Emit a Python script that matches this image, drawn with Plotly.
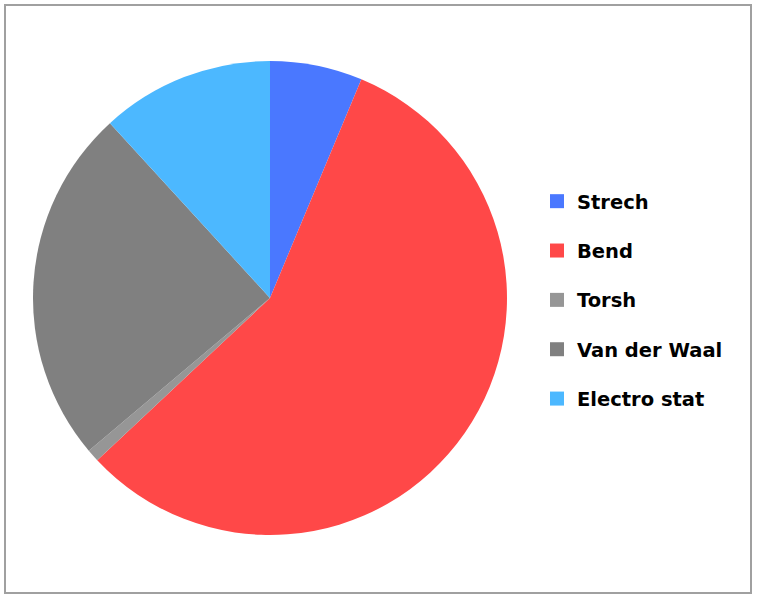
import plotly.graph_objects as go

labels = ["Strech", "Bend", "Torsh", "Van der Waal", "Electro stat"]
values = [6.3, 56.7, 0.85, 24.35, 11.8]
colors = ["#4A78FF", "#FF4848", "#969696", "#808080", "#4CB8FF"]

W, H = 757, 600

fig = go.Figure()

fig.add_trace(go.Pie(
    labels=labels,
    values=values,
    marker=dict(colors=colors, line=dict(width=0)),
    sort=False,
    direction="clockwise",
    rotation=0,
    textinfo="none",
    showlegend=False,
    domain=dict(x=[33 / W, 507 / W], y=[1 - 535 / H, 1 - 61 / H]),
))

# legend entries, one group each so the rows can be spaced out
for i, (lab, col) in enumerate(zip(labels, colors)):
    fig.add_trace(go.Scatter(
        x=[None], y=[None],
        mode="markers",
        marker=dict(symbol="square", size=14, color=col),
        name=lab,
        legendgroup=f"g{i}",
    ))

fig.add_shape(
    type="rect", xref="paper", yref="paper",
    x0=5 / W, x1=751 / W, y0=1 - 593 / H, y1=1 - 5 / H,
    line=dict(color="#A0A0A0", width=2),
)

fig.update_layout(
    width=W,
    height=H,
    margin=dict(l=0, r=0, t=0, b=0),
    paper_bgcolor="white",
    plot_bgcolor="white",
    xaxis=dict(visible=False),
    yaxis=dict(visible=False),
    legend=dict(
        x=537 / W, y=0.5, xanchor="left", yanchor="middle",
        font=dict(family="DejaVu Sans", size=19.5, color="black", weight="bold"),
        tracegroupgap=21,
        itemclick=False,
    ),
)

fig.write_html(
    "out.html",
    config={"displayModeBar": False},
    post_script="document.body.style.margin='0';",
)
